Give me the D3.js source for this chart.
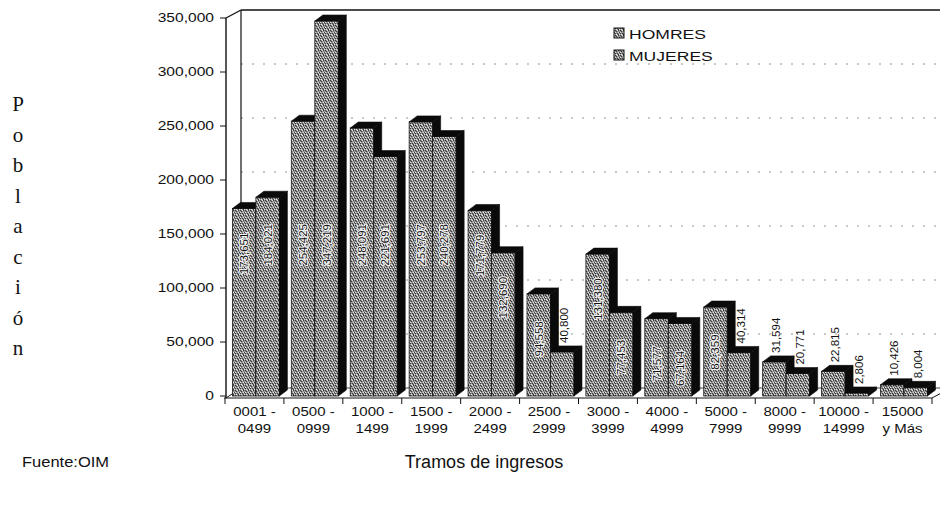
<!DOCTYPE html>
<html>
<head>
<meta charset="utf-8">
<script src="https://cdn.jsdelivr.net/npm/d3@7"></script>
<style>
  body { margin: 0; background: #fff; }
  svg { display: block; font-family: Arial, "Liberation Sans", sans-serif; }
</style>
</head>
<body>
<div id="chart"></div>
<script>
const catLine1 = ["0001 -", "0500 -", "1000 -", "1500 -", "2000 -", "2500 -", "3000 -", "4000 -", "5000 -", "8000 -", "10000 -", "15000"];
const catLine2 = ["0499", "0999", "1499", "1999", "2499", "2999", "3999", "4999", "7999", "9999", "14999", "y Más"];
const seriesNames = ["HOMRES", "MUJERES"];
const hombres = [173651, 254425, 248091, 253797, 171779, 94558, 131380, 71577, 82359, 31594, 22815, 10426];
const mujeres = [184021, 347219, 221691, 240278, 132690, 40800, 77453, 67164, 40314, 20771, 2806, 8004];
const yTicks = [0, 50000, 100000, 150000, 200000, 250000, 300000, 350000];

const width = 940;
const height = 506;

// depth offsets of the 3D box and of the bars
const wallDx = 15, wallDy = -8;
const barDx = 8, barDy = -6;

const svg = d3.select("#chart").append("svg")
    .attr("width", width)
    .attr("height", height);

// stippled grey like the scan
const defs = svg.append("defs");
const pat = defs.append("pattern")
    .attr("id", "stipple")
    .attr("width", 5).attr("height", 5)
    .attr("patternUnits", "userSpaceOnUse");
pat.append("rect").attr("width", 5).attr("height", 5).attr("fill", "#959595");
[[0, 0], [3, 0], [1, 1], [4, 2], [2, 3], [0, 3], [3, 4]].forEach(p => {
    pat.append("rect").attr("x", p[0]).attr("y", p[1]).attr("width", 1).attr("height", 1).attr("fill", "#3a3a3a");
});
[[2, 0], [0, 2], [3, 2], [1, 4], [4, 4]].forEach(p => {
    pat.append("rect").attr("x", p[0]).attr("y", p[1]).attr("width", 1).attr("height", 1).attr("fill", "#e2e2e2");
});

const y = d3.scaleLinear().domain([0, 350000]).range([396, 18]);
const x = d3.scaleBand().domain(d3.range(catLine1.length)).range([225, 932]);
const xInner = d3.scaleBand().domain([0, 1]).range([7.4, 54.4]);
const y0 = y(0);
const fmt = d3.format(",");

// back wall gridlines (dashed)
svg.append("g").selectAll("line")
    .data(yTicks.filter(d => d > 0 && d < 350000))
    .enter().append("line")
    .attr("x1", 226 + wallDx).attr("x2", width)
    .attr("y1", d => y(d) + wallDy).attr("y2", d => y(d) + wallDy)
    .attr("stroke", "#777")
    .attr("stroke-width", 0.8)
    .attr("stroke-dasharray", "2,9");

// box edges
const box = svg.append("g").attr("stroke", "#111").attr("fill", "none");
box.append("line").attr("x1", 226).attr("x2", 226).attr("y1", y(350000)).attr("y2", y0 + 2).attr("stroke-width", 1.4);
box.append("line").attr("x1", 226 + wallDx).attr("x2", 226 + wallDx).attr("y1", y(350000) + wallDy).attr("y2", y0 + wallDy).attr("stroke-width", 1.2);
box.append("line").attr("x1", 226).attr("x2", 226 + wallDx).attr("y1", y(350000)).attr("y2", y(350000) + wallDy).attr("stroke-width", 1.2);
box.append("line").attr("x1", 226 + wallDx).attr("x2", width).attr("y1", y(350000) + wallDy).attr("y2", y(350000) + wallDy).attr("stroke-width", 1.6);
box.append("line").attr("x1", 226).attr("x2", 226 + wallDx).attr("y1", y0 + 2).attr("y2", y0 + wallDy).attr("stroke-width", 1);
box.append("line").attr("x1", 226 + wallDx).attr("x2", width).attr("y1", y0 + wallDy).attr("y2", y0 + wallDy).attr("stroke-width", 0.8);
box.append("line").attr("x1", 224).attr("x2", 932).attr("y1", y0 + 2).attr("y2", y0 + 2).attr("stroke-width", 1);
box.append("line").attr("x1", 932).attr("x2", 932 + wallDx).attr("y1", y0 + 2).attr("y2", y0 + 2 + wallDy).attr("stroke-width", 1);

// x ticks on the floor edge
box.selectAll(".xtick")
    .data(d3.range(catLine1.length + 1))
    .enter().append("line")
    .attr("class", "xtick")
    .attr("x1", d => 225 + d * x.step()).attr("x2", d => 225 + d * x.step())
    .attr("y1", y0 + 2).attr("y2", y0 + 8);

// y ticks and labels
box.selectAll(".ytick")
    .data(yTicks)
    .enter().append("line")
    .attr("class", "ytick")
    .attr("x1", 220).attr("x2", 226)
    .attr("y1", d => y(d)).attr("y2", d => y(d));

svg.append("g").selectAll("text")
    .data(yTicks)
    .enter().append("text")
    .attr("transform", d => `translate(214,${y(d) + 4}) scale(1.3,1)`)
    .attr("text-anchor", "end")
    .attr("font-size", 12)
    .attr("fill", "#111")
    .text(d => fmt(d));

// bars
const rows = catLine1.map((c, i) => ({ i: i, vals: [hombres[i], mujeres[i]] }));
const bars = [];
rows.forEach(r => r.vals.forEach((v, s) => bars.push({ i: r.i, s: s, v: v })));

const barG = svg.append("g");
bars.forEach(d => {
    const bx = x(d.i) + xInner(d.s);
    const w = xInner.bandwidth();
    const yt = y(d.v);
    const g = barG.append("g");
    g.append("rect")
        .attr("x", bx).attr("y", yt)
        .attr("width", w).attr("height", y0 - yt)
        .attr("fill", "url(#stipple)")
        .attr("stroke", "#1a1a1a")
        .attr("stroke-width", 0.8);
    g.append("path")
        .attr("d", `M${bx},${yt}L${bx + barDx},${yt + barDy}L${bx + w + barDx},${yt + barDy}L${bx + w},${yt}Z`)
        .attr("fill", "#0a0a0a").attr("stroke", "#0a0a0a").attr("stroke-width", 0.6);
    g.append("path")
        .attr("d", `M${bx + w},${yt}L${bx + w + barDx},${yt + barDy}L${bx + w + barDx},${y0 + barDy}L${bx + w},${y0}Z`)
        .attr("fill", "#0a0a0a").attr("stroke", "#0a0a0a").attr("stroke-width", 0.6);
});

// value labels, rotated
const labG = svg.append("g").attr("font-size", 11.5);
bars.forEach(d => {
    const cx = x(d.i) + xInner(d.s) + xInner.bandwidth() / 2;
    if (d.v > 45000) {
        const cy = Math.max(y(d.v) + 45, y(140000));
        labG.append("text")
            .attr("transform", `translate(${cx + 4},${cy}) rotate(-90)`)
            .attr("text-anchor", "middle")
            .attr("fill", "#111")
            .attr("stroke", "#f4f4f4")
            .attr("stroke-width", 2.2)
            .attr("stroke-linejoin", "round")
            .attr("paint-order", "stroke")
            .text(fmt(d.v));
    } else {
        labG.append("text")
            .attr("transform", `translate(${cx + 6},${y(d.v) + barDy - 3}) rotate(-90)`)
            .attr("text-anchor", "start")
            .attr("fill", "#111")
            .text(fmt(d.v));
    }
});

// category labels
const catG = svg.append("g").attr("font-size", 12).attr("fill", "#111");
catG.selectAll(".c1")
    .data(catLine1)
    .enter().append("text")
    .attr("transform", (d, i) => `translate(${x(i) + x.step() / 2},${416}) scale(1.25,1)`)
    .attr("text-anchor", "middle")
    .text(d => d);
catG.selectAll(".c2")
    .data(catLine2)
    .enter().append("text")
    .attr("transform", (d, i) => `translate(${x(i) + x.step() / 2},${433}) scale(1.25,1)`)
    .attr("text-anchor", "middle")
    .text(d => d);

// legend
const leg = svg.append("g");
seriesNames.forEach((name, k) => {
    leg.append("rect")
        .attr("x", 614).attr("y", 28 + k * 22)
        .attr("width", 10).attr("height", 10)
        .attr("fill", "url(#stipple)")
        .attr("stroke", "#111");
    leg.append("text")
        .attr("transform", `translate(629,${39 + k * 22}) scale(1.3,1)`)
        .attr("font-size", 13.5)
        .attr("fill", "#111")
        .text(name);
});

// axis titles
const yTitle = "Población".split("");
svg.append("g").selectAll("text")
    .data(yTitle)
    .enter().append("text")
    .attr("x", 18)
    .attr("y", (d, i) => 111 + i * 30.5)
    .attr("text-anchor", "middle")
    .attr("font-family", "'Liberation Serif', 'Times New Roman', serif")
    .attr("font-size", 21)
    .attr("fill", "#111")
    .text(d => d);

svg.append("text")
    .attr("transform", "translate(22,467) scale(1.1,1)")
    .attr("font-size", 15)
    .attr("fill", "#111")
    .text("Fuente:OIM");

svg.append("text")
    .attr("x", 484).attr("y", 468)
    .attr("text-anchor", "middle")
    .attr("font-size", 18)
    .attr("fill", "#111")
    .text("Tramos de ingresos");
</script>
</body>
</html>
